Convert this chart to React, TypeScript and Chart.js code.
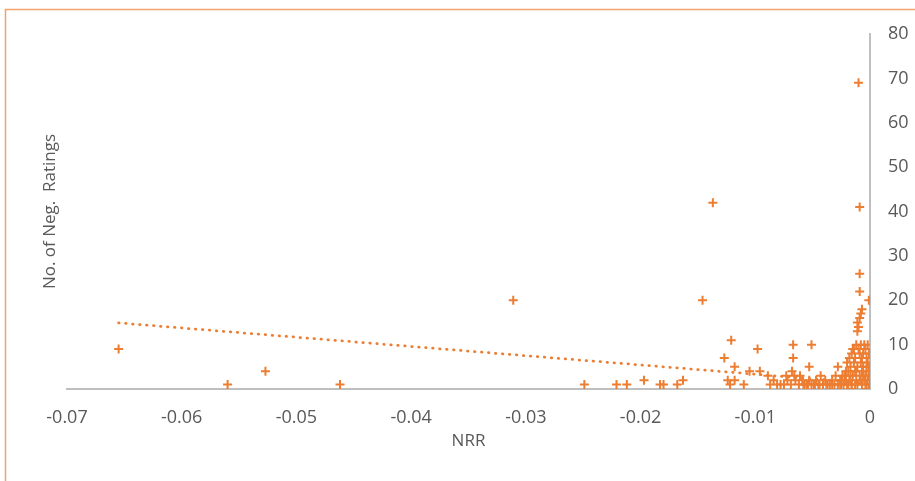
import React, { useEffect, useRef } from "react";
import { Chart, registerables } from "chart.js";

Chart.register(...registerables);

// NRR (x) and number of negative ratings (y)
const nrr = [
  -0.0655, -0.056, -0.0527, -0.0462, -0.0311, -0.0249, -0.0221, -0.0212, -0.0197, -0.0183,
  -0.018, -0.0168, -0.0163, -0.0146, -0.0137, -0.0127, -0.0121, -0.0118, -0.0124, -0.0118,
  -0.0122, -0.011, -0.0105, -0.0098, -0.0096, -0.0089, -0.0087, -0.0078, -0.0075, -0.0073,
  -0.0067, -0.0067, -0.0068, -0.0066, -0.0051, -0.0053, -0.0028, -0.0021,
  -0.001, -0.0009, -0.0009, -0.0009, -0.0001, -0.0007, -0.0008, -0.0009, -0.0011, -0.001, -0.0011,
  -0.0084, -0.0081, -0.0072, -0.0069, -0.0065, -0.0062, -0.0061, -0.0059, -0.0057, -0.0055,
  -0.0053, -0.0051, -0.0049, -0.0047, -0.0045, -0.0043, -0.0041, -0.0039, -0.0037, -0.0035,
  -0.0033, -0.0031, -0.003, -0.0028, -0.0026, -0.0025, -0.0024, -0.0023,
  -0.0012, -0.0008, -0.0005, -0.0002,
  -0.0015, -0.001, -0.0004,
  -0.0016, -0.0009, -0.0006, -0.0001,
  -0.0013, -0.0007, -0.0003,
  -0.0014, -0.0008, -0.0002,
  -0.0017, -0.0011, -0.0006, -0.0001,
  -0.0019, -0.0012, -0.0007, -0.0003,
  -0.0022, -0.0015, -0.0009, -0.0004, -0.0001,
  -0.0025, -0.0018, -0.0012, -0.0008, -0.0005, -0.0002,
  -0.002, -0.0016, -0.0011, -0.0007, -0.0003, 0,
  -0.0001, 0, -0.0004,
  -0.0014, -0.0018, -0.002, -0.0013, -0.0017, -0.0021, -0.0019, -0.0026, -0.0033, -0.0038,
  -0.0044, -0.0048, -0.0054, -0.0058, -0.0003, -0.0006, -0.0013, -0.0016
];
const negRatings = [
  9, 1, 4, 1, 20, 1, 1, 1, 2, 1,
  1, 1, 2, 20, 42, 7, 11, 5, 2, 2,
  1, 1, 4, 9, 4, 3, 1, 1, 1, 3,
  10, 7, 4, 3, 10, 5, 5, 4,
  69, 41, 26, 22, 20, 18, 17, 16, 15, 14, 13,
  2, 1, 2, 1, 2, 1, 3, 2, 1, 1,
  2, 1, 1, 2, 1, 3, 1, 2, 1, 1,
  2, 1, 3, 1, 2, 1, 3, 1,
  10, 10, 10, 10,
  9, 9, 9,
  8, 8, 8, 8,
  7, 7, 7,
  6, 6, 6,
  5, 5, 5, 5,
  4, 4, 4, 4,
  3, 3, 3, 3, 3,
  2, 2, 2, 2, 2, 2,
  1, 1, 1, 1, 1, 1,
  0, 0, 0,
  9, 7, 6, 4, 3, 2, 1, 1, 1, 1,
  1, 1, 1, 1, 5, 3, 1, 0
];

// linear trendline end points
const trendX = [-0.0655, 0];
const trendY = [14.9, 1.25];

const xTickLabels = ["-0.07", "-0.06", "-0.05", "-0.04", "-0.03", "-0.02", "-0.01", "0"];
const yTickLabels = ["0", "10", "20", "30", "40", "50", "60", "70", "80"];

const ORANGE = "#ED7D31";
const GREY_TEXT = "#595959";
const AXIS = "#BFBFBF";

const framePlugin = {
  id: "frame",
  afterDraw(chart: any) {
    const ctx = chart.ctx;
    ctx.save();
    ctx.strokeStyle = "#F4A26B";
    ctx.lineWidth = 1.5;
    ctx.beginPath();
    ctx.moveTo(5.5, chart.height);
    ctx.lineTo(5.5, 9.5);
    ctx.lineTo(chart.width, 9.5);
    ctx.stroke();
    ctx.restore();
  },
};

export default function App() {
  const ref = useRef<HTMLCanvasElement | null>(null);

  useEffect(() => {
    if (!ref.current) return;
    const points = nrr.map((x, i) => ({ x, y: negRatings[i] }));
    const trend = trendX.map((x, i) => ({ x, y: trendY[i] }));
    const chart = new Chart(ref.current, {
      type: "scatter",
      data: {
        datasets: [
          {
            type: "line",
            label: "Trend",
            data: trend,
            borderColor: ORANGE,
            borderWidth: 2.75,
            borderDash: [0.5, 6.5],
            borderCapStyle: "round",
            pointRadius: 0,
            fill: false,
            order: 0,
          } as any,
          {
            type: "scatter",
            label: "No. of Neg. Ratings",
            data: points,
            pointStyle: "cross",
            pointRadius: 4.5,
            pointBorderWidth: 2,
            borderColor: ORANGE,
            backgroundColor: ORANGE,
            order: 1,
          } as any,
        ],
      },
      options: {
        responsive: false,
        animation: false,
        layout: { padding: { top: 34, left: 0, right: 0, bottom: 0 } },
        plugins: { legend: { display: false }, tooltip: { enabled: false } },
        scales: {
          x: {
            type: "linear",
            position: "bottom",
            min: -0.07,
            max: 0,
            ticks: {
              stepSize: 0.01,
              padding: 18,
              color: GREY_TEXT,
              font: { family: "'Open Sans'", size: 18 },
              callback: (_v: any, i: number) => xTickLabels[i],
            },
            grid: { display: false, drawTicks: false },
            border: { display: true, color: AXIS, width: 2 },
            title: {
              display: true,
              text: "NRR",
              color: GREY_TEXT,
              font: { family: "'Open Sans'", size: 17 },
              padding: { top: 0, bottom: 30 },
            },
            afterFit: (s: any) => {
              s.height = 92;
            },
          },
          y: {
            type: "linear",
            position: "right",
            min: 0,
            max: 80,
            ticks: {
              stepSize: 10,
              padding: 18,
              color: GREY_TEXT,
              font: { family: "'Open Sans'", size: 18 },
              callback: (_v: any, i: number) => yTickLabels[i],
            },
            grid: { display: false, drawTicks: false },
            border: { display: true, color: AXIS, width: 2 },
            afterFit: (s: any) => {
              s.width = 45;
            },
          },
          yTitle: {
            type: "linear",
            position: "left",
            min: 0,
            max: 80,
            ticks: { display: false },
            grid: { display: false, drawTicks: false },
            border: { display: false },
            title: {
              display: true,
              text: "No. of Neg.  Ratings",
              color: GREY_TEXT,
              font: { family: "'Open Sans'", size: 17 },
              padding: { top: 40, bottom: 0 },
            },
            afterFit: (s: any) => {
              s.width = 67;
            },
          },
        },
      } as any,
      plugins: [framePlugin],
    });
    return () => chart.destroy();
  }, []);

  return (
    <div style={{ position: "fixed", left: 0, top: 0, width: 915, height: 481, overflow: "hidden", background: "#fff" }}>
      <canvas ref={ref} width={915} height={481} style={{ display: "block" }} />
    </div>
  );
}
